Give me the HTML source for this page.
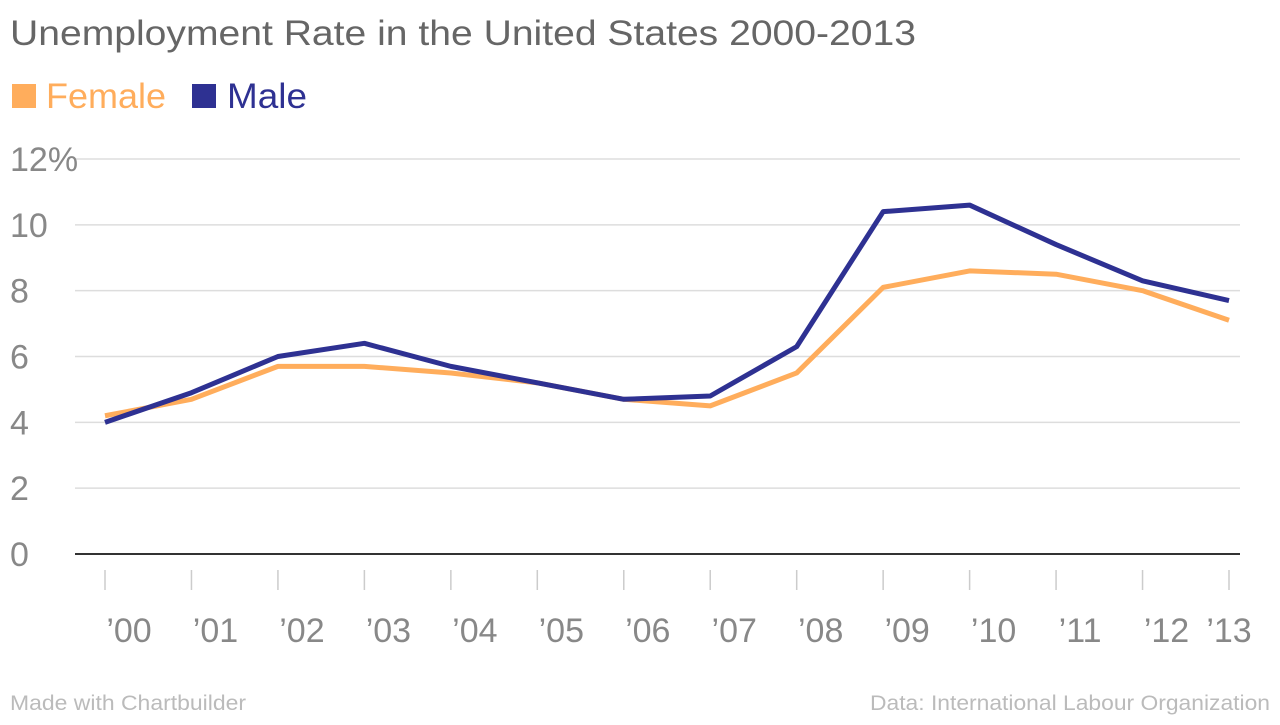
<!DOCTYPE html>
<html><head><meta charset="utf-8"><style>
body{margin:0;background:#fff;width:1280px;height:720px;overflow:hidden;font-family:"Liberation Sans",sans-serif;}
</style></head><body>
<svg id="chart" width="1280" height="720" style="font-family:'Liberation Sans',sans-serif">
<text x="10" y="45" font-size="35" fill="#666" textLength="906" lengthAdjust="spacingAndGlyphs">Unemployment Rate in the United States 2000-2013</text>
<g>
<rect x="12" y="84" width="24" height="24" fill="#ffad5c"/>
<text x="46" y="108" font-size="35" fill="#ffad5c" textLength="120" lengthAdjust="spacingAndGlyphs">Female</text>
<rect x="192" y="84" width="24" height="24" fill="#2e3192"/>
<text x="227" y="108" font-size="35" fill="#2e3192" textLength="80" lengthAdjust="spacingAndGlyphs">Male</text>
</g>
<g id="grid"></g><g id="series"></g>
<text x="10" y="710" font-size="21" fill="#bbb" textLength="236" lengthAdjust="spacingAndGlyphs">Made with Chartbuilder</text>
<text x="870" y="710" font-size="21" fill="#bbb" textLength="400" lengthAdjust="spacingAndGlyphs">Data: International Labour Organization</text>
</svg>
<script>
const years=["’00","’01","’02","’03","’04","’05","’06","’07","’08","’09","’10","’11","’12","’13"];
const female=[4.2,4.7,5.7,5.7,5.5,5.2,4.7,4.5,5.5,8.1,8.6,8.5,8.0,7.1];
const male=[4.0,4.9,6.0,6.4,5.7,5.2,4.7,4.8,6.3,10.4,10.6,9.4,8.3,7.7];
const yTicks=[0,2,4,6,8,10,12];
const NS="http://www.w3.org/2000/svg";
const x=i=>105+i*(1229-105)/(years.length-1);
const y=v=>554-v*(554-159)/12;
function mk(t,a,p){const e=document.createElementNS(NS,t);for(const k in a)e.setAttribute(k,a[k]);p.appendChild(e);return e;}
const g=document.getElementById('grid');
yTicks.forEach(v=>{
 const l=mk('line',{x1:75,x2:1240,y1:y(v),y2:y(v),stroke:v===0?'#333':'#ddd','stroke-width':v===0?2:1.5},g);
 
 
 const t=mk('text',{x:10,y:y(v)+12,'font-size':34,fill:'#888'},g);
 t.textContent=v===12?'12%':String(v);
 
 
});
years.forEach((yr,i)=>{
 const l=mk('line',{x1:x(i),x2:x(i),y1:570,y2:590,stroke:'#ccc','stroke-width':1.5},g);
 
 
 const t=mk('text',{x:x(i)+(i===13?0:24),y:642,'font-size':34,fill:'#888','text-anchor':'middle'},g);
 t.textContent=yr;
 
 
});
const s=document.getElementById('series');
[[female,'#ffad5c','female-line'],[male,'#2e3192','male-line']].forEach(([d,c,n])=>{
 const p=mk('polyline',{points:d.map((v,i)=>x(i)+','+y(v)).join(' '),fill:'none',stroke:c,'stroke-width':5,'stroke-linejoin':'round'},s);
 
 
});
</script>
</body></html>
